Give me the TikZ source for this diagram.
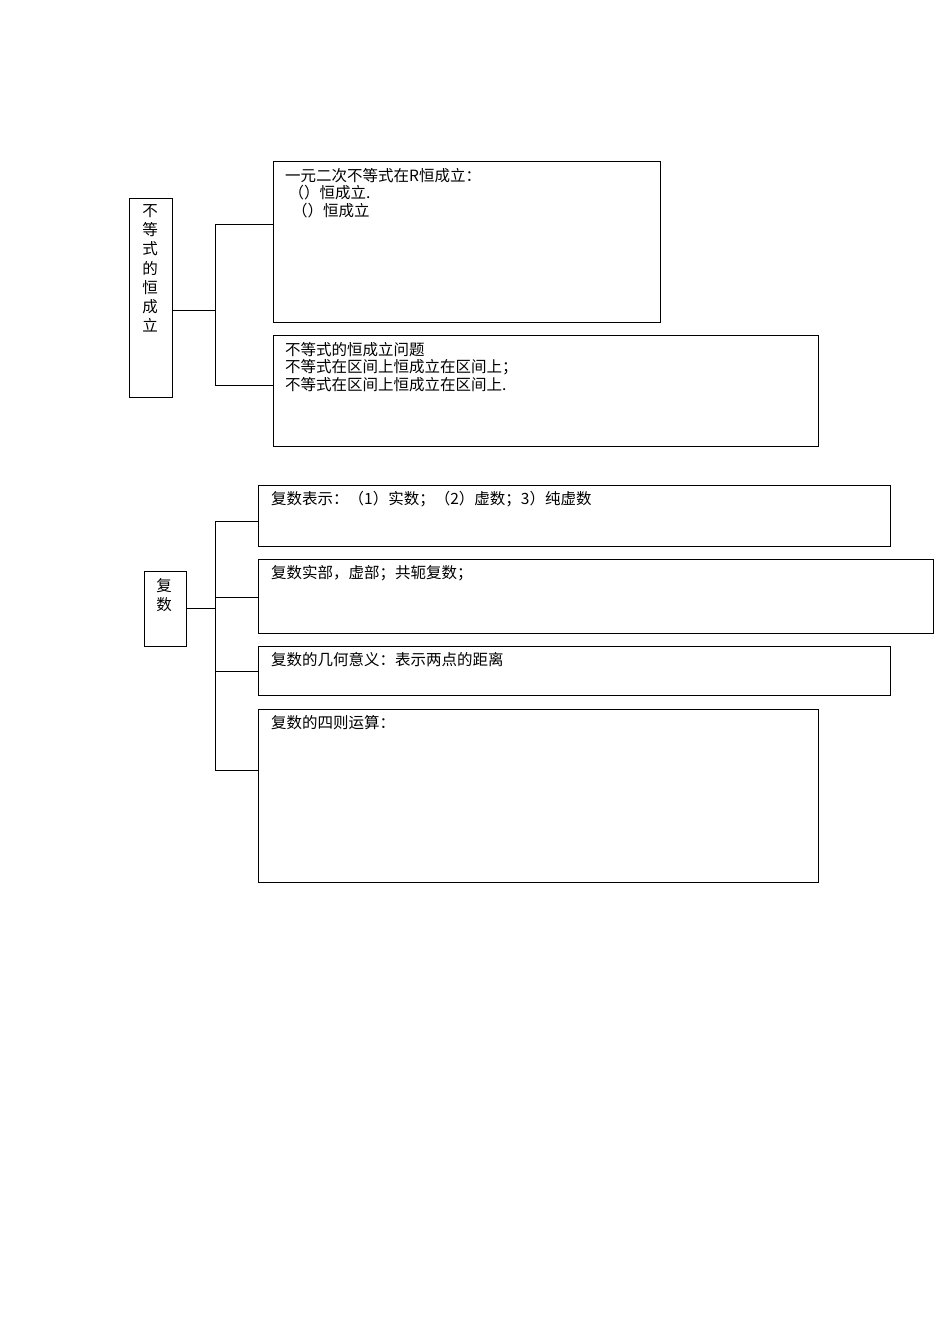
\documentclass[tikz,border=0pt]{standalone}
\usepackage{fontspec}
\newfontfamily\cjk{Noto Sans CJK SC}
\begin{document}
\begin{tikzpicture}[x=1pt,y=-1pt,
  bx/.style={draw,line width=1pt},
  ln/.style={line width=1pt},
  txt/.style={anchor=north west,inner sep=0pt,font=\cjk\fontsize{15.5}{17.5}\selectfont,align=left}]
\useasboundingbox (0,0) rectangle (950,1344);
% group 1
\draw[bx] (129,198) rectangle (172,397);
\node[txt,anchor=north,align=center,font=\cjk\fontsize{15.5}{19.3}\selectfont] (t1) at (150,204) {不\\等\\式\\的\\恒\\成\\立};
\draw[bx] (273,161) rectangle (660,322);
\node[txt] (b1) at (285,168) {一元二次不等式在R恒成立：\\\ （）恒成立.\\\ \ （）恒成立};
\draw[bx] (273,335) rectangle (818,446);
\node[txt] (b2) at (285,342) {不等式的恒成立问题\\不等式在区间上恒成立在区间上；\\不等式在区间上恒成立在区间上.};
\draw[ln] (172,310) -- (215,310);
\draw[ln] (215,224) -- (215,385);
\draw[ln] (215,224) -- (273,224);
\draw[ln] (215,385) -- (273,385);
% group 2
\draw[bx] (144,571) rectangle (186,646);
\node[txt,anchor=north,align=center,font=\cjk\fontsize{15.5}{19.3}\selectfont] (t2) at (164,578) {复\\数};
\draw[bx] (258,485) rectangle (890,546);
\node[txt] at (271,491) {复数表示：（1）实数；（2）虚数；3）纯虚数};
\draw[bx] (258,559) rectangle (933,633);
\node[txt] at (271,565) {复数实部，虚部；共轭复数；};
\draw[bx] (258,646) rectangle (890,695);
\node[txt] at (271,652) {复数的几何意义：表示两点的距离};
\draw[bx] (258,709) rectangle (818,882);
\node[txt] at (271,715) {复数的四则运算：};
\draw[ln] (186,608) -- (215,608);
\draw[ln] (215,521) -- (215,770);
\foreach \y in {521,597,671,770} \draw[ln] (215,\y) -- (258,\y);
\end{tikzpicture}
\end{document}
